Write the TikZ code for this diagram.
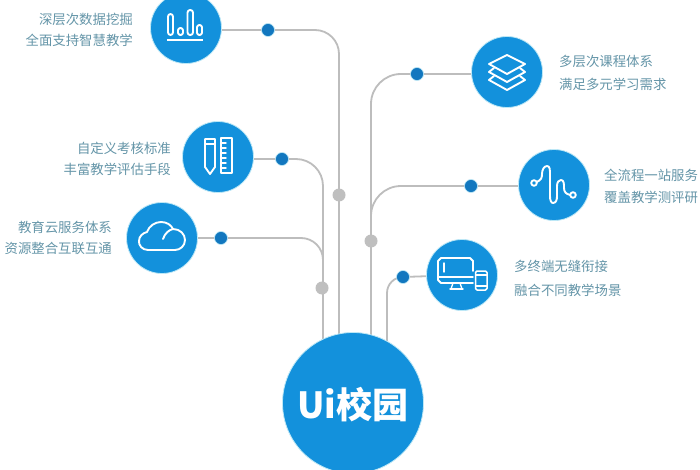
\documentclass[tikz,border=0pt]{standalone}
\usepackage{fontspec}
\newfontfamily\cjk{Noto Sans CJK SC}
\definecolor{hubblue}{HTML}{1391DC}
\definecolor{halo}{HTML}{BDE8F6}
\definecolor{dotblue}{HTML}{1277BF}
\definecolor{wire}{HTML}{BDBDBD}
\definecolor{joint}{HTML}{BFBFBF}
\definecolor{label}{HTML}{6495A8}
\tikzset{
  disc/.style={circle,fill=hubblue,draw=halo,line width=.8pt,inner sep=0,minimum size=71pt},
  hub/.style={disc,minimum size=141pt},
  dot/.style={circle,fill=dotblue,draw=halo,line width=.6pt,inner sep=0,minimum size=13pt},
  jointdot/.style={circle,fill=joint,inner sep=0,minimum size=13pt},
  wireline/.style={draw=wire,line width=1.8pt},
  icon/.style={draw=white,line width=1.9pt,line join=round,line cap=round},
  txtl/.style={anchor=east,text=label,font=\cjk\fontsize{13.4}{13.4}\selectfont,inner sep=0},
  txtr/.style={anchor=west,text=label,font=\cjk\fontsize{13.4}{13.4}\selectfont,inner sep=0},
}
\begin{document}
\begin{tikzpicture}[x=1pt,y=-1pt]
\useasboundingbox (0,0) rectangle (700,470);
\fill[white] (0,0) rectangle (700,470);
% anchors
\coordinate (p1) at (186,28);
\coordinate (p2) at (218,157);
\coordinate (p3) at (162,238);
\coordinate (p4) at (507,72);
\coordinate (p5) at (554,185);
\coordinate (p6) at (462,275);
\coordinate (t1) at (339,345);
\coordinate (t2) at (323,345);
\coordinate (t3) at (323,262);
\coordinate (t4) at (371,345);
\coordinate (t5) at (371,212);
\coordinate (t6) at (387,345);
\coordinate (d6pos) at (403,277);
% wires
\draw[wireline,rounded corners=24pt] (p1 |- 0,30) -- (t1 |- 0,30) -- (t1);
\draw[wireline,rounded corners=27pt] (p2 |- 0,159) -- (t2 |- 0,159) -- (t2);
\draw[wireline,rounded corners=22pt] (p3) -- (p3 -| t3) -- (t3);
\draw[wireline,rounded corners=30pt] (p4 |- 0,74) -- (t4 |- 0,74) -- (t4);
\draw[wireline,rounded corners=30pt] (p5 |- 0,186) -- (t5 |- 0,186) -- (t5);
\draw[wireline] (p6) -- (d6pos);
\draw[wireline,rounded corners=16pt] (d6pos) -- (d6pos -| t6) -- (t6);
% discs
\node[disc] (c1) at (p1) {};
\node[disc] (c2) at (p2) {};
\node[disc] (c3) at (p3) {};
\node[disc] (c4) at (p4) {};
\node[disc] (c5) at (p5) {};
\node[disc] (c6) at (p6) {};
\node[hub] (hub) at (353,403) {};
\node[font=\cjk\bfseries\fontsize{36}{36}\selectfont,text=white,inner sep=0] (hubt) at (353,405) {Ui校园};
% dots
\node[dot] (d1) at (268,30) {};
\node[dot] (d2) at (282,159) {};
\node[dot] (d3) at (221,238) {};
\node[dot] (d4) at (417,74) {};
\node[dot] (d5) at (471,186) {};
\node[dot] (d6) at (d6pos) {};
\node[jointdot] (g1) at (339,195) {};
\node[jointdot] (g2) at (322,288) {};
\node[jointdot] (g3) at (371,241) {};
% labels
\node[txtl] (l1a) at (133,19) {深层次数据挖掘};
\node[txtl] (l1b) at (133,40) {全面支持智慧教学};
\node[txtl] (l2a) at (171,148) {自定义考核标准};
\node[txtl] (l2b) at (171,169) {丰富教学评估手段};
\node[txtl] (l3a) at (112,227) {教育云服务体系};
\node[txtl] (l3b) at (112,248) {资源整合互联互通};
\node[txtr] (l4a) at (559,61) {多层次课程体系};
\node[txtr] (l4b) at (559,84) {满足多元学习需求};
\node[txtr] (l5a) at (604,175) {全流程一站服务};
\node[txtr] (l5b) at (604,197) {覆盖教学测评研};
\node[txtr] (l6a) at (514,266) {多终端无缝衔接};
\node[txtr] (l6b) at (514,290) {融合不同教学场景};
% icon 1 bars
\draw[icon,rounded corners=2.6pt] (168,35) rectangle (173,14);
\draw[icon,rounded corners=2.4pt] (178,35) rectangle (183,28);
\draw[icon,rounded corners=2.6pt] (187.5,35) rectangle (193,10);
\draw[icon,rounded corners=2.4pt] (197,35) rectangle (202,25);
\draw[icon,line cap=butt,line width=2.4pt] (167,40) -- (203,40);
% icon 2 pencil + ruler
\draw[icon] (205,139) -- (215,139) -- (215,167) -- (210,174) -- (205,167) -- cycle;
\draw[icon] (205,144) -- (215,144);
\draw[icon] (221,138) rectangle (232,173);
\foreach \yy in {143,148,153,158,163,168}{\draw[icon,line width=1.4pt] (226,\yy) -- (221,\yy);}
% icon 3 cloud
\draw[icon] (148,250) .. controls (142,250) and (138.5,245) .. (139,241)
  .. controls (139,236) and (143,233) .. (147,232)
  .. controls (149,226) and (155,222) .. (161,222)
  .. controls (167,222) and (171,225) .. (173,229)
  .. controls (180,229) and (185,234) .. (185,240)
  .. controls (185,246) and (180,250) .. (175,250) -- cycle;
\draw[icon] (163,239) .. controls (165,233) and (169,230) .. (173,229);
% icon 4 layers
\draw[icon] (507,55) -- (525,64) -- (507,74) -- (489,64) -- cycle;
\draw[icon] (494,68) -- (489,72) -- (507,82) -- (525,72) -- (520,68);
\draw[icon] (494,76) -- (489,80) -- (507,90) -- (525,80) -- (520,76);
% icon 5 wave
\draw[icon] (534,183) circle (2.8);
\draw[icon] (573,195) circle (2.8);
\draw[icon] (536.8,182) .. controls (541,180) and (542,178) .. (542,174)
  .. controls (542,170) and (544,166) .. (547,166)
  .. controls (550,166) and (550,170) .. (550,175)
  -- (550,196) .. controls (550,200) and (551,203) .. (553,203)
  .. controls (556,203) and (557,200) .. (557,196)
  -- (557,186) .. controls (557,182) and (559,180) .. (561,180)
  .. controls (564,180) and (564,184) .. (564,188)
  .. controls (564,192) and (566,194) .. (570.2,195);
% icon 6 devices
\draw[icon] (473,271) -- (473,261) -- (470,258) -- (441,258) -- (438,261) -- (438,280) -- (441,283) -- (473,283);
\draw[icon,line width=1.4pt] (438,277) -- (473,277);
\draw[icon,line width=1.4pt] (444,263) -- (444,272);
\draw[icon,line width=1.4pt] (450,289) -- (463,289);
\draw[icon,line width=1.4pt] (453,283) -- (451,289) (460,283) -- (462,289);
\draw[icon,rounded corners=1.5pt,line width=1.5pt] (475.5,271) rectangle (487,290);
\draw[icon,line width=1.1pt] (475.5,275) -- (487,275) (475.5,286) -- (487,286);
\end{tikzpicture}
\end{document}
